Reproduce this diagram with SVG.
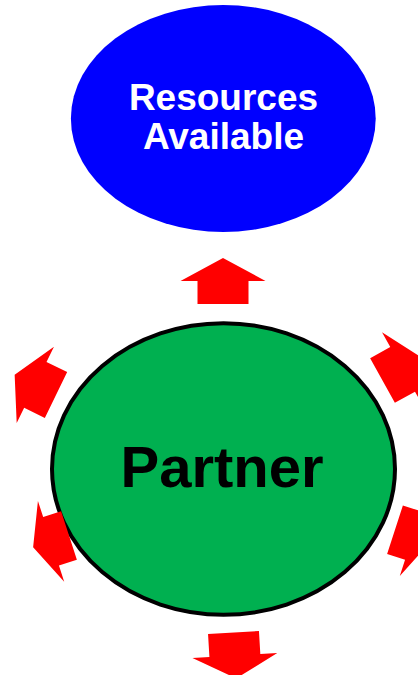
<svg xmlns="http://www.w3.org/2000/svg" xmlns:xlink="http://www.w3.org/1999/xlink" width="418" height="675" viewBox="0 0 418 675">
  <style>
    .label { font-family: "Liberation Sans", Arial, sans-serif; font-weight: bold; text-anchor: middle; }
    .res { fill: #ffffff; font-size: 37px; }
    .partner { fill: #000000; font-size: 58px; }
    .arrow { fill: #ff0000; }
  </style>
  <defs>
    <!-- block arrow pointing up, origin at the middle of the tail -->
    <path id="blockArrow" d="M-25.5,0 V-23 H-42.5 L0,-46 L42.5,-23 H25.5 V0 Z"/>
  </defs>
  <rect width="418" height="675" fill="#ffffff"/>

  <g id="resources">
    <ellipse cx="223.3" cy="118.5" rx="152.4" ry="113.5" fill="#0000ff"/>
    <text class="label res" x="223.5" y="110">Resources</text>
    <text class="label res" x="223.5" y="148.5">Available</text>
  </g>

  <g id="partner">
    <ellipse cx="223.5" cy="469" rx="171.5" ry="145.8" fill="#00b050" stroke="#000000" stroke-width="4"/>
    <text class="label partner" x="222" y="487">Partner</text>
  </g>

  <g id="connectors" class="arrow">
    <use xlink:href="#blockArrow" href="#blockArrow" transform="translate(223,304)"/>
    <use xlink:href="#blockArrow" href="#blockArrow" transform="translate(56,395) rotate(-64)"/>
    <use xlink:href="#blockArrow" href="#blockArrow" transform="translate(382.5,380.5) rotate(61)"/>
    <use xlink:href="#blockArrow" href="#blockArrow" transform="translate(69,535.5) rotate(-108) scale(1,0.82)"/>
    <use xlink:href="#blockArrow" href="#blockArrow" transform="translate(395,529.7) rotate(108) scale(1,0.82)"/>
    <use xlink:href="#blockArrow" href="#blockArrow" transform="translate(233.5,632.5) rotate(176.6)"/>
  </g>
</svg>
